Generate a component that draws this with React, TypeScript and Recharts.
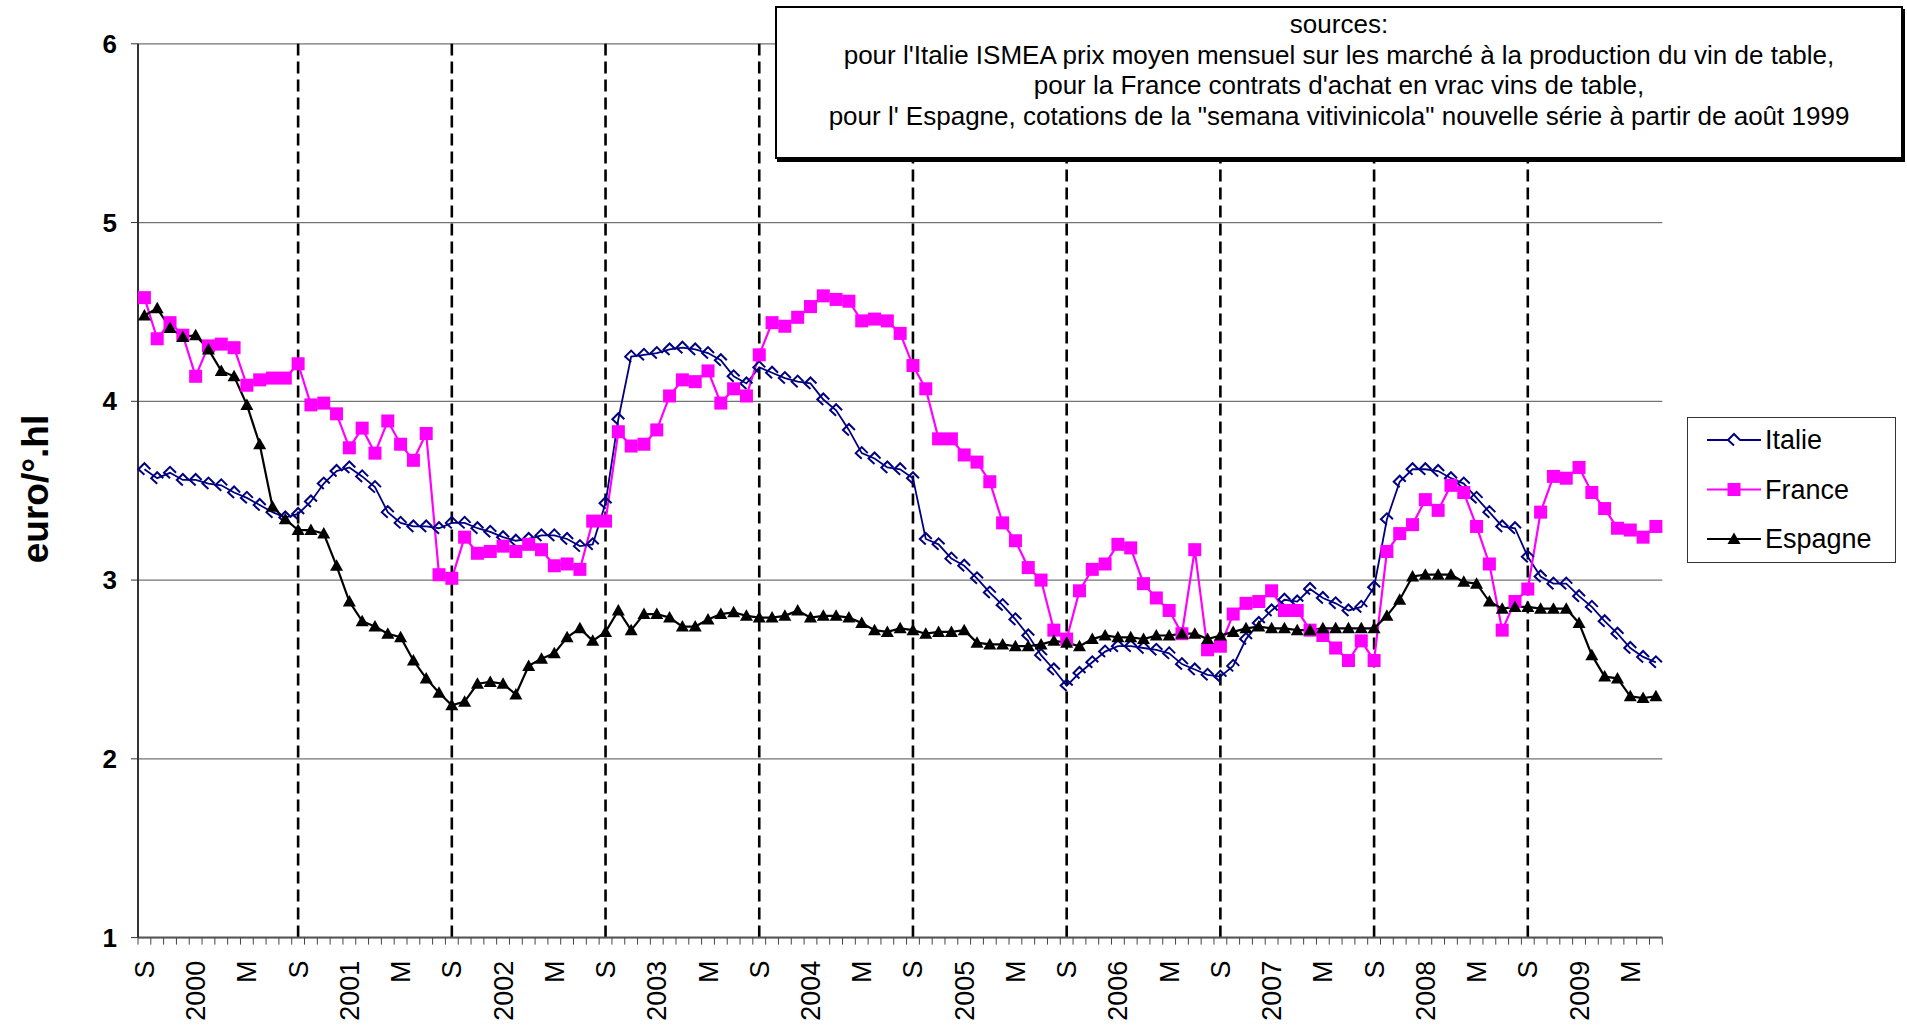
import { CartesianGrid, Legend, Line, LineChart, ReferenceLine, XAxis, YAxis } from "recharts";

const FONT = '"Liberation Sans", Arial, Helvetica, sans-serif';

// monthly categories, Sept 1999 .. July 2009
const firstYear = 1999;
const firstMonth = 8; // September (0-based)
const monthCount = 119;
const months = Array.from({ length: monthCount }, (_, k) => {
  const m = firstMonth + k;
  return `${firstYear + Math.floor(m / 12)}-${String((m % 12) + 1).padStart(2, "0")}`;
});

// letters shown under some months; January shows the year
const monthLetters: Record<string, string> = { "09": "S", "05": "M" };

const septemberLines = [
  "2000-09", "2001-09", "2002-09", "2003-09", "2004-09",
  "2005-09", "2006-09", "2007-09", "2008-09",
];

const yTicks = [1, 2, 3, 4, 5, 6];

const italie = [
  3.62, 3.57, 3.6, 3.56, 3.56, 3.54, 3.53, 3.49, 3.46, 3.42, 3.38, 3.35, 3.37,
  3.44, 3.54, 3.61, 3.63, 3.58, 3.52, 3.38, 3.32, 3.3, 3.3, 3.29, 3.32,
  3.32, 3.29, 3.27, 3.24, 3.22, 3.23, 3.25, 3.25, 3.23, 3.19, 3.2, 3.43,
  3.9, 4.25, 4.26, 4.27, 4.29, 4.3, 4.29, 4.27, 4.23, 4.14, 4.1, 4.19,
  4.16, 4.13, 4.11, 4.1, 4.01, 3.95, 3.84, 3.71, 3.68, 3.63, 3.62, 3.57,
  3.23, 3.2, 3.12, 3.08, 3.01, 2.93, 2.86, 2.78, 2.69, 2.58, 2.5, 2.41,
  2.48, 2.54, 2.6, 2.63, 2.63, 2.62, 2.61, 2.59, 2.53, 2.5, 2.47, 2.46,
  2.52, 2.67, 2.76, 2.83, 2.89, 2.88, 2.95, 2.9, 2.87, 2.83, 2.85, 2.96,
  3.34, 3.55, 3.62, 3.62, 3.61, 3.57, 3.54, 3.46, 3.38, 3.3, 3.29, 3.13,
  3.02, 2.98, 2.98, 2.91, 2.85, 2.77, 2.7, 2.62, 2.57, 2.54,
];

const france = [
  4.58, 4.35, 4.44, 4.37, 4.14, 4.31, 4.32, 4.3, 4.09, 4.12, 4.13, 4.13, 4.21,
  3.98, 3.99, 3.93, 3.74, 3.85, 3.71, 3.89, 3.76, 3.67, 3.82, 3.03, 3.01,
  3.24, 3.15, 3.16, 3.19, 3.16, 3.2, 3.17, 3.08, 3.09, 3.06, 3.33, 3.33,
  3.83, 3.75, 3.76, 3.84, 4.03, 4.12, 4.11, 4.17, 3.99, 4.07, 4.03, 4.26,
  4.44, 4.42, 4.47, 4.53, 4.59, 4.57, 4.56, 4.45, 4.46, 4.45, 4.38, 4.2,
  4.07, 3.79, 3.79, 3.7, 3.66, 3.55, 3.32, 3.22, 3.07, 3.0, 2.72, 2.67,
  2.94, 3.06, 3.09, 3.2, 3.18, 2.98, 2.9, 2.83, 2.7, 3.17, 2.61, 2.63,
  2.81, 2.87, 2.88, 2.94, 2.83, 2.83, 2.72, 2.69, 2.62, 2.55, 2.66, 2.55,
  3.16, 3.26, 3.31, 3.45, 3.39, 3.53, 3.49, 3.3, 3.09, 2.72, 2.88, 2.95,
  3.38, 3.58, 3.57, 3.63, 3.49, 3.4, 3.29, 3.28, 3.24, 3.3,
];

const espagne = [
  4.48, 4.52, 4.41, 4.36, 4.37, 4.29, 4.17, 4.14, 3.98, 3.76, 3.41, 3.34, 3.28,
  3.28, 3.26, 3.08, 2.88, 2.77, 2.74, 2.7, 2.68, 2.55, 2.45, 2.37, 2.3,
  2.32, 2.42, 2.43, 2.42, 2.36, 2.52, 2.56, 2.59, 2.68, 2.73, 2.66, 2.71,
  2.83, 2.72, 2.81, 2.81, 2.79, 2.74, 2.74, 2.78, 2.81, 2.82, 2.8, 2.79,
  2.79, 2.8, 2.83, 2.79, 2.8, 2.8, 2.79, 2.76, 2.72, 2.71, 2.73, 2.72,
  2.7, 2.71, 2.71, 2.72, 2.65, 2.64, 2.64, 2.63, 2.63, 2.64, 2.66, 2.65,
  2.63, 2.67, 2.69, 2.68, 2.68, 2.67, 2.69, 2.69, 2.7, 2.7, 2.67, 2.69,
  2.71, 2.73, 2.74, 2.73, 2.73, 2.72, 2.72, 2.73, 2.73, 2.73, 2.73, 2.73,
  2.8, 2.89, 3.02, 3.03, 3.03, 3.03, 2.99, 2.98, 2.88, 2.84, 2.85, 2.85,
  2.84, 2.84, 2.84, 2.76, 2.58, 2.46, 2.45, 2.35, 2.34, 2.35,
];

const sources = [
  "sources:",
  "pour l'Italie ISMEA prix moyen mensuel sur les marché à la production du vin de table,",
  "pour la France contrats d'achat en vrac vins de table,",
  "pour l' Espagne, cotations de la \"semana vitivinicola\" nouvelle série à partir de août 1999",
];

const data = months.map((month, i) => ({
  month,
  Italie: italie[i],
  France: france[i],
  Espagne: espagne[i],
}));

const NAVY = "#000080";
const PINK = "#ff00ff";

// plot box
const PLOT_LEFT = 138;
const PLOT_RIGHT = 1662.3;
const PLOT_TOP = 43.8;
const PLOT_BOTTOM = 937.6;
const STEP = (PLOT_RIGHT - PLOT_LEFT) / monthCount;

function tickLabel(month: string) {
  const [y, m] = month.split("-");
  if (m === "01") return y;
  return monthLetters[m] ?? "";
}

const italieShape = (cx: number, cy: number) =>
  `M${cx},${cy + 5.5} L${cx - 6},${cy} L${cx},${cy - 6} L${cx + 6},${cy}`;
const triangleShape = (cx: number, cy: number) =>
  `M${cx},${cy - 6.5} L${cx + 6.5},${cy + 5} L${cx - 6.5},${cy + 5} Z`;

const ItalieDot = (props: any) => {
  const { cx, cy, index } = props;
  if (cx == null || cy == null) return <g key={index} />;
  return <path key={index} d={italieShape(cx, cy)} fill="none" stroke={NAVY} strokeWidth={2} />;
};

const FranceDot = (props: any) => {
  const { cx, cy, index } = props;
  if (cx == null || cy == null) return <g key={index} />;
  return <rect key={index} x={cx - 6.5} y={cy - 6.5} width={13} height={13} fill={PINK} />;
};

const EspagneDot = (props: any) => {
  const { cx, cy, index } = props;
  if (cx == null || cy == null) return <g key={index} />;
  return <path key={index} d={triangleShape(cx, cy)} fill="#000" />;
};

const MonthTick = (props: any) => {
  const { x, y, payload } = props;
  const label = tickLabel(payload.value);
  const last = payload.value === months[months.length - 1];
  return (
    <g>
      <line x1={x - STEP / 2} x2={x - STEP / 2} y1={y} y2={y + 7} stroke="#444" strokeWidth={1} />
      {last && <line x1={x + STEP / 2} x2={x + STEP / 2} y1={y} y2={y + 7} stroke="#444" strokeWidth={1} />}
      {label && (
        <text
          transform={`translate(${x + 9.5},${y + 23}) rotate(-90)`}
          textAnchor="end"
          fontFamily={FONT}
          fontSize={27}
          fill="#000"
        >
          {label}
        </text>
      )}
    </g>
  );
};

const ValueTick = (props: any) => {
  const { x, y, payload } = props;
  return (
    <text x={x} y={y} textAnchor="end" dominantBaseline="central" fontFamily={FONT} fontWeight="bold" fontSize={26} fill="#000">
      {payload.value}
    </text>
  );
};

const YTitle = () => (
  <text
    transform="translate(35,489) rotate(-90)"
    textAnchor="middle"
    dominantBaseline="central"
    fontFamily={FONT}
    fontWeight="bold"
    fontSize={37}
    fill="#000"
  >
    euro/°.hl
  </text>
);

const legendItems = [
  { name: "Italie", color: NAVY, shape: "italie" },
  { name: "France", color: PINK, shape: "square" },
  { name: "Espagne", color: "#000", shape: "triangle" },
];

const renderLegend = () => (
  <div
    style={{
      width: 209,
      height: 146,
      boxSizing: "border-box",
      border: "1px solid #333",
      background: "#fff",
    }}
  >
    <svg width={207} height={144}>
      {legendItems.map((item, k) => {
        const cy = 22 + k * 49.5;
        return (
          <g key={item.name}>
            <line x1={19} x2={73} y1={cy} y2={cy} stroke={item.color} strokeWidth={2} />
            {item.shape === "italie" && <path d={italieShape(46, cy)} fill="#fff" stroke={item.color} strokeWidth={2} />}
            {item.shape === "square" && <rect x={39.5} y={cy - 6.5} width={13} height={13} fill={item.color} />}
            {item.shape === "triangle" && <path d={triangleShape(46, cy)} fill={item.color} />}
            <text x={77} y={cy} dominantBaseline="central" fontFamily={FONT} fontSize={27} fill="#000">
              {item.name}
            </text>
          </g>
        );
      })}
    </svg>
  </div>
);

export default function App() {
  return (
    <div style={{ position: "absolute", left: 0, top: 0, width: 1907, height: 1032, background: "#fff" }}>
      <LineChart
        width={1907}
        height={1032}
        data={data}
        margin={{ top: PLOT_TOP, right: 1907 - PLOT_RIGHT, bottom: 1032 - PLOT_BOTTOM - 60, left: PLOT_LEFT - 60 }}
      >
        <CartesianGrid vertical={false} stroke="#737373" strokeWidth={1.3} />
        <XAxis
          dataKey="month"
          interval={0}
          height={60}
          tickSize={0}
          tickMargin={0}
          tickLine={false}
          tick={<MonthTick />}
          padding={{ left: STEP / 2, right: STEP / 2 }}
          axisLine={{ stroke: "#555", strokeWidth: 2 }}
        />
        <YAxis
          domain={[1, 6]}
          ticks={yTicks}
          width={60}
          tickSize={7}
          tickMargin={14}
          tick={<ValueTick />}
          tickLine={{ stroke: "#333" }}
          axisLine={{ stroke: "#333", strokeWidth: 2 }}
          label={<YTitle />}
        />
        <YAxis
          yAxisId="border"
          orientation="right"
          domain={[1, 6]}
          width={0}
          tick={false}
          tickLine={false}
          axisLine={{ stroke: "#a6a6a6", strokeWidth: 3 }}
        />
        {septemberLines.map((m) => (
          <ReferenceLine key={m} x={m} stroke="#000" strokeWidth={2.6} strokeDasharray="12 6" />
        ))}
        <Line
          dataKey="Italie"
          stroke={NAVY}
          strokeWidth={1.8}
          dot={ItalieDot}
          activeDot={false}
          isAnimationActive={false}
        />
        <Line
          dataKey="France"
          stroke={PINK}
          strokeWidth={2.2}
          dot={FranceDot}
          activeDot={false}
          isAnimationActive={false}
        />
        <Line
          dataKey="Espagne"
          stroke="#000"
          strokeWidth={2.2}
          dot={EspagneDot}
          activeDot={false}
          isAnimationActive={false}
        />
        <Legend
          layout="vertical"
          align="center"
          verticalAlign="middle"
          wrapperStyle={{ left: 1687, top: 417, width: 209, height: 146 }}
          content={renderLegend}
        />
      </LineChart>
      <div
        style={{
          position: "absolute",
          left: 775,
          top: 6,
          width: 1128,
          height: 153,
          boxSizing: "border-box",
          border: "2px solid #000",
          boxShadow: "2px 3px 0 #000",
          background: "#fff",
          fontFamily: FONT,
          fontSize: 26,
          lineHeight: "30.5px",
          textAlign: "center",
          paddingTop: 1,
          color: "#000",
          whiteSpace: "nowrap",
        }}
      >
        {sources.map((s) => (
          <div key={s}>{s}</div>
        ))}
      </div>
    </div>
  );
}
